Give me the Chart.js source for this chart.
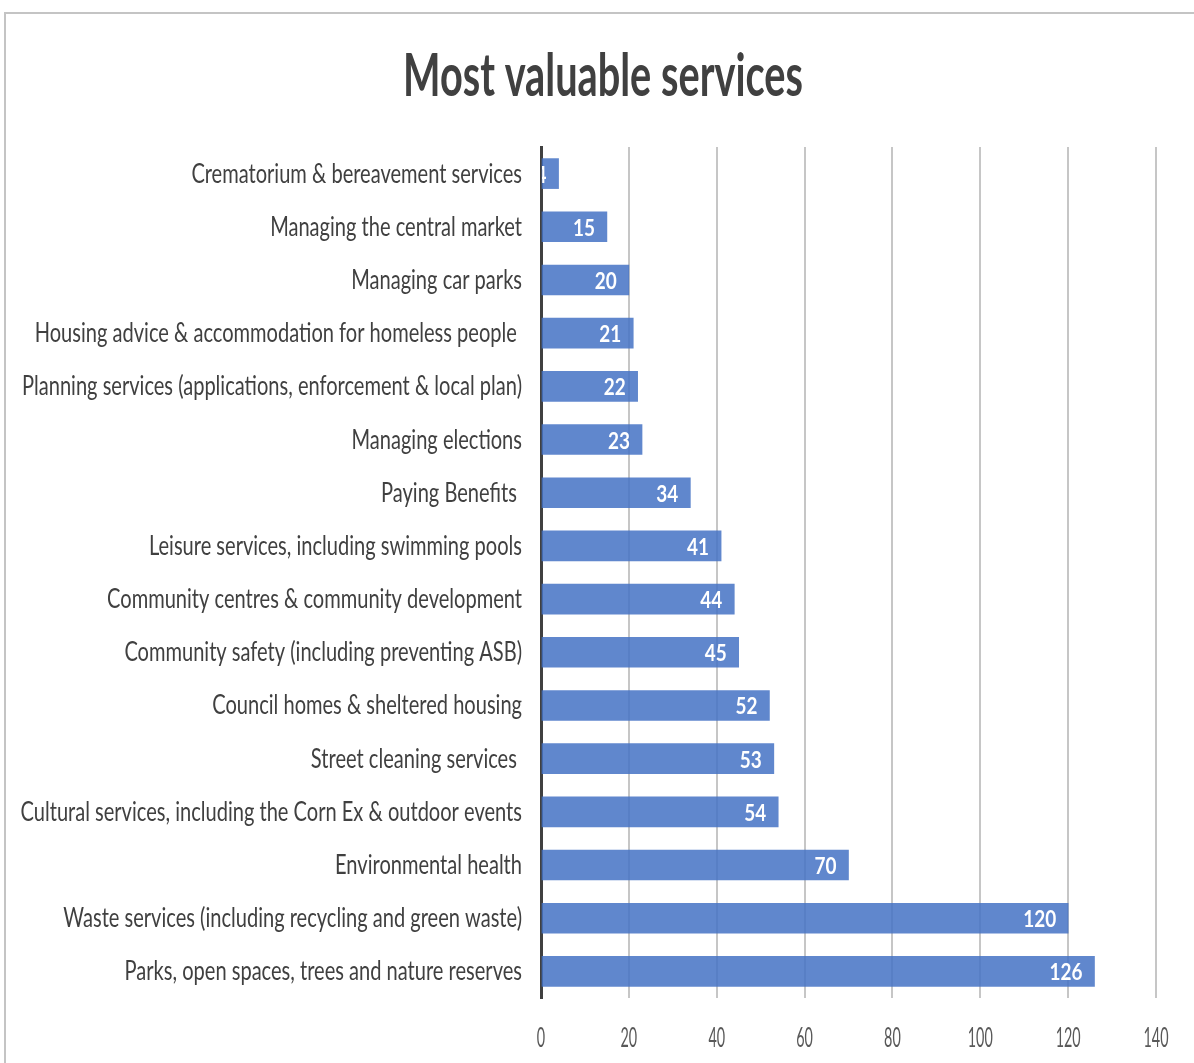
<!DOCTYPE html>
<html>
<head>
<meta charset="utf-8">
<script src="https://cdn.jsdelivr.net/npm/chart.js@4.4.1/dist/chart.umd.min.js"></script>
<style>
  body { margin: 0; background: #fff; }
  #frame { position: absolute; left: 4px; top: 12px; width: 1190px; height: 1051px;
           border-top: 2px solid #c4c4c4; border-left: 2px solid #c4c4c4; box-sizing: border-box; }
  #wrap { position: absolute; left: 0; top: 0; width: 1194px; height: 1063px; }
</style>
</head>
<body>
<div id="frame"></div>
<div id="wrap"><canvas id="grafico"></canvas></div>
<script>
const titulo = 'Most valuable services';
const categorias = [
  'Crematorium & bereavement services',
  'Managing the central market',
  'Managing car parks',
  'Housing advice & accommodation for homeless people ',
  'Planning services (applications, enforcement & local plan)',
  'Managing elections',
  'Paying Benefits ',
  'Leisure services, including swimming pools',
  'Community centres & community development',
  'Community safety (including preventing ASB)',
  'Council homes & sheltered housing',
  'Street cleaning services ',
  'Cultural services, including the Corn Ex & outdoor events',
  'Environmental health',
  'Waste services (including recycling and green waste)',
  'Parks, open spaces, trees and nature reserves'
];
const valores = [4, 15, 20, 21, 22, 23, 34, 41, 44, 45, 52, 53, 54, 70, 120, 126];
const ejeTicks = [0, 20, 40, 60, 80, 100, 120, 140];

const fuente = "Lato, 'Open Sans', sans-serif";
const fLabel = "27px " + fuente;
const fTitulo = "bold 60px " + fuente;
const fDato = "bold 23px " + fuente;

// el texto del original es estrecho (Calibri), asi que lo estiramos en horizontal
function escala(ctx, font, texto, ancho) {
  ctx.save();
  ctx.font = font;
  const w = ctx.measureText(texto).width;
  ctx.restore();
  return ancho / w;
}

function textoEstrecho(ctx, texto, x, y, align, font, color, s) {
  ctx.save();
  ctx.font = font;
  ctx.fillStyle = color;
  ctx.textAlign = align;
  ctx.textBaseline = 'alphabetic';
  ctx.translate(x, y);
  ctx.scale(s, 1);
  ctx.fillText(texto, 0, 0);
  ctx.restore();
}

const textos = {
  id: 'textos',
  afterDraw(chart) {
    const ctx = chart.ctx;
    const xs = chart.scales.x;
    const ys = chart.scales.y;
    const sL = escala(ctx, fLabel, categorias[4], 500);
    const sT = escala(ctx, fTitulo, titulo, 400);
    const sN = escala(ctx, fLabel, '140', 25);
    const sD = escala(ctx, fDato, '126', 33);

    // titulo
    textoEstrecho(ctx, titulo, 603, 96, 'center', fTitulo, '#404040', sT);

    // etiquetas de categoria
    categorias.forEach((c, i) => {
      const y = ys.getPixelForValue(i);
      textoEstrecho(ctx, c, ys.right - 19, y + 9, 'right', fLabel, '#404040', sL);
    });

    // numeros del eje x
    ejeTicks.forEach(v => {
      textoEstrecho(ctx, String(v), xs.getPixelForValue(v), 1047, 'center', fLabel, '#595959', sN);
    });

    // valores dentro de las barras
    const meta = chart.getDatasetMeta(0);
    meta.data.forEach((bar, i) => {
      const alto = bar.height;
      ctx.save();
      ctx.beginPath();
      ctx.rect(bar.base, bar.y - alto / 2, bar.x - bar.base, alto);
      ctx.clip();
      textoEstrecho(ctx, String(valores[i]), bar.x - 12, bar.y + 9, 'right', fDato, '#ffffff', sD);
      ctx.restore();
    });
  }
};

const config = {
  type: 'bar',
  data: {
    labels: categorias,
    datasets: [{
      data: valores,
      backgroundColor: 'rgba(68, 114, 196, 0.85)',
      borderWidth: 0,
      barThickness: 30
    }]
  },
  options: {
    indexAxis: 'y',
    responsive: true,
    maintainAspectRatio: false,
    animation: false,
    layout: { padding: { left: 0, right: 38, top: 147, bottom: 65 } },
    plugins: {
      legend: { display: false },
      tooltip: { enabled: false },
      title: { display: false }
    },
    scales: {
      x: {
        min: 0,
        max: 140,
        afterBuildTicks(scale) { scale.ticks = ejeTicks.map(v => ({ value: v })); },
        grid: { color: '#c6c6c6', lineWidth: 2, drawTicks: false },
        border: { display: false },
        ticks: { display: false }
      },
      y: {
        afterFit(scale) { scale.width = 541; },
        grid: { display: false, drawTicks: false },
        border: { display: true, color: '#404040', width: 3 },
        ticks: { display: false }
      }
    }
  },
  plugins: [textos]
};

let miGrafico = new Chart(document.getElementById('grafico'), config);
</script>
</body>
</html>
